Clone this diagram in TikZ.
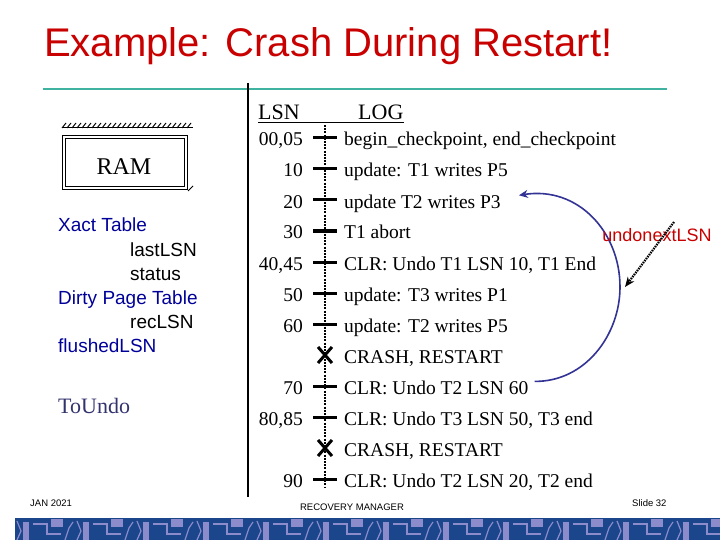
\documentclass[tikz,border=0pt]{standalone}
\usepackage{fontspec}
\setmainfont{Liberation Serif}
\setsansfont{Liberation Sans}
\usetikzlibrary{positioning,arrows.meta}
\definecolor{titlered}{RGB}{200,0,0}
\definecolor{rulteal}{RGB}{64,178,160}
\definecolor{tabblue}{RGB}{0,0,153}
\definecolor{undoblue}{RGB}{51,51,110}
\definecolor{arcblue}{RGB}{51,51,150}
\definecolor{bandblue}{RGB}{28,70,140}
\definecolor{bandlight}{RGB}{140,140,205}
\tikzset{
  lsnnum/.style={anchor=base east,inner sep=0pt,font=\fontsize{19.5}{22}\selectfont},
  logtxt/.style={anchor=base west,inner sep=0pt,font=\fontsize{19.5}{22}\selectfont},
  loghdr/.style={anchor=base west,inner sep=0pt,font=\fontsize{22}{24}\selectfont},
  tabhead/.style={anchor=base west,inner sep=0pt,text=tabblue,font=\sffamily\fontsize{19}{22}\selectfont},
  tabfld/.style={anchor=base west,inner sep=0pt,font=\sffamily\fontsize{19}{22}\selectfont},
  foot/.style={inner sep=0pt,font=\sffamily\fontsize{9.5}{11}\selectfont},
  tickmark/.pic={\draw[line width=3pt] (-12,0)--(12,0);},
  crossmark/.pic={\draw[line width=3pt] (-7,-8)--(7,8) (-7,8)--(7,-8);},
  undoarc/.style={-{Stealth[length=9pt,width=8pt]},draw=arcblue,line width=1.6pt},
  sip/.style={-{Stealth[length=10pt,width=8pt]},line width=2.2pt,dash pattern=on 1.5pt off 1pt},
}
\begin{document}
\begin{tikzpicture}[x=1pt,y=-1pt]
  \useasboundingbox (0,0) rectangle (720,540);
  \node[anchor=base west,inner sep=0pt,text=titlered,font=\sffamily\fontsize{40}{44}\selectfont] (title) at (44,57) {Example: Crash During Restart!};
  \draw[rulteal,line width=2.5pt] (43,89) -- (667,89);
  \draw[line width=1.5pt] (248,83) -- (248,497);
  % RAM box
  \draw[line width=1.2pt,double,double distance=2pt] (64,137) rectangle (186,188);
  \draw[line width=1pt] (62,128) -- (193,128);
  \foreach \x in {62,67,...,190} \draw[line width=1pt] (\x,128) -- (\x+4,123);
  \draw[line width=1pt] (188,191) -- (193,186);
  \node[anchor=base,inner sep=0pt,font=\fontsize{24}{26}\selectfont] (ram) at (124,175) {RAM};
  \node[tabhead] (xact) at (58,232) {Xact Table};
  \node[tabfld] (last) at (130,256) {lastLSN};
  \node[tabfld] (stat) at (130,280) {status};
  \node[tabhead] (dpt) at (58,304) {Dirty Page Table};
  \node[tabfld] (rec) at (130,328) {recLSN};
  \node[tabhead] (flush) at (58,352) {flushedLSN};
  \node[anchor=base west,inner sep=0pt,text=undoblue,font=\fontsize{22}{24}\selectfont] (toundo) at (58,413) {ToUndo};
  % log
  \node[loghdr] (lsnh) at (258,120) {LSN};
  \node[loghdr] (logh) at (358,120) {LOG};
  \draw[line width=1pt] ([yshift=-2.5pt]lsnh.base west) -- ([yshift=-2.5pt]logh.base east);
  \draw[line width=2.2pt,dash pattern=on 2pt off 1.2pt] (325,125) -- (325,488);
  \foreach \lsn/\mk/\txt [count=\i] in {
      {00,05}/tickmark/{begin\textunderscore checkpoint, end\textunderscore checkpoint},
      10/tickmark/{update: T1 writes P5},
      20/tickmark/{update T2 writes P3},
      30/tickmark/{T1 abort},
      {40,45}/tickmark/{CLR: Undo T1 LSN 10, T1 End},
      50/tickmark/{update: T3 writes P1},
      60/tickmark/{update: T2 writes P5},
      {}/crossmark/{CRASH, RESTART},
      70/tickmark/{CLR: Undo T2 LSN 60},
      {80,85}/tickmark/{CLR: Undo T3 LSN 50, T3 end},
      {}/crossmark/{CRASH, RESTART},
      90/tickmark/{CLR: Undo T2 LSN 20, T2 end}} {
    \pgfmathsetmacro\y{138+31*(\i-1)}
    \node[lsnnum] (n\i) at (303,\y+8) {\lsn};
    \node[logtxt] (e\i) at (344,\y+8) {\txt};
    \pic at (325,\y) {\mk};
  }
  \draw[undoarc] ([xshift=6pt,yshift=6pt]e9.east) .. controls (585,382) and (620,335) .. (620,287)
    .. controls (620,232) and (578,186) .. ([xshift=18pt,yshift=8pt]e3.east);
  \node[inner sep=0pt,text=titlered,font=\sffamily\fontsize{18}{20}\selectfont] (unl) at (657,235) {undonextLSN};
  \coordinate (ptr) at (674,222);
  \coordinate (tip) at (625,287);
  \draw[sip] (ptr) -- (tip);
  % footer
  \node[foot,anchor=west] (date) at (30,503) {JAN 2021};
  \node[foot] (mgr) at (352,507) {RECOVERY MANAGER};
  \node[foot,anchor=west] (slide) at (632,503) {Slide 32};
  \fill[bandblue] (15,518) rectangle (720,540);
  \begin{scope}
    \clip (15,518) rectangle (720,540);
    \foreach \x in {15,75,...,675} {
      \fill[bandlight] (\x+8,522) rectangle (\x+14,540);
      \fill[bandlight] (\x+36,519) rectangle (\x+48,527);
      \draw[bandlight,line width=1.5pt] (\x+18,524) -- (\x+32,524) -- (\x+32,534) -- (\x+46,534);
      \draw[bandlight,line width=1.2pt] (\x+2,521) -- (\x+6,531) -- (\x+2,540);
      \draw[bandlight,line width=1.2pt] (\x+50,540) -- (\x+54,528) -- (\x+58,522);
    }
  \end{scope}
\end{tikzpicture}
\end{document}
